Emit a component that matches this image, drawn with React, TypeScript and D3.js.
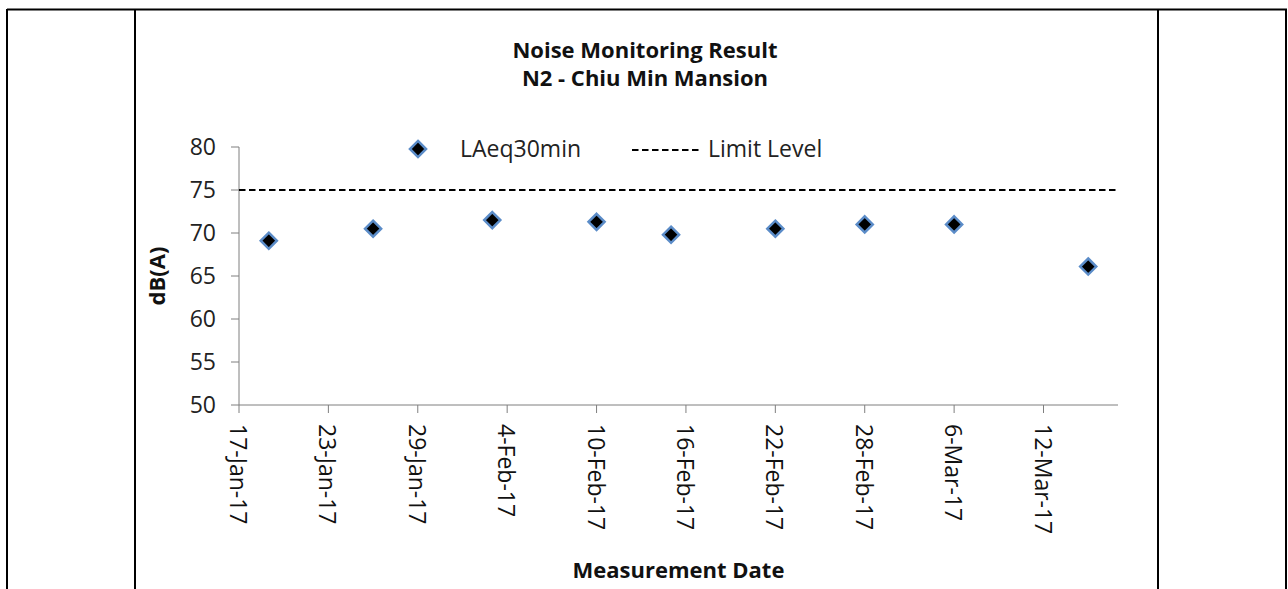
import React from "react";
import * as d3 from "d3";

// measurement dates and LAeq30min readings, dB(A)
const dates = [
  "2017-01-19", "2017-01-26", "2017-02-03", "2017-02-10", "2017-02-15",
  "2017-02-22", "2017-02-28", "2017-03-06", "2017-03-15"
];
const laeq = [69.1, 70.5, 71.5, 71.3, 69.8, 70.5, 71.0, 71.0, 66.1];
const limitLevel = 75;
const yTicks = [50, 55, 60, 65, 70, 75, 80];
const xTickDates = [
  "2017-01-17", "2017-01-23", "2017-01-29", "2017-02-04", "2017-02-10",
  "2017-02-16", "2017-02-22", "2017-02-28", "2017-03-06", "2017-03-12"
];

const parse = d3.utcParse("%Y-%m-%d");
const fmt = d3.utcFormat("%-d-%b-%y");
const font = "'Open Sans', sans-serif";

const App = () => {
  const width = 1288;
  const height = 589;
  const left = 239, right = 1118, top = 147, bottom = 405;

  const x = d3.scaleUtc()
    .domain([parse("2017-01-17")!, parse("2017-03-17")!])
    .range([left, right]);
  const y = d3.scaleLinear().domain([50, 80]).range([bottom, top]);

  const diamond = d3.symbol().type(d3.symbolDiamond2).size(165)()!;
  const axisColor = "#7f7f7f";
  const markerStroke = "#5b8cc8";

  return (
    <svg width={width} height={height} style={{ position: "absolute", left: 0, top: 0 }}>
      <rect width={width} height={height} fill="#fff" />
      {/* table borders */}
      <line x1={7} x2={1287} y1={9.5} y2={9.5} stroke="#000" strokeWidth={2} />
      {[7, 135, 1158, 1286].map((bx) => (
        <line key={bx} x1={bx} x2={bx} y1={9} y2={height} stroke="#000" strokeWidth={2} />
      ))}

      <text x={645} y={58} textAnchor="middle" fontFamily={font} fontWeight="bold" fontSize={22} fill="#111">
        Noise Monitoring Result
      </text>
      <text x={645} y={86} textAnchor="middle" fontFamily={font} fontWeight="bold" fontSize={22} fill="#111">
        N2 - Chiu Min Mansion
      </text>

      {/* legend */}
      <path d={diamond} transform="translate(418,149)" fill="#000" stroke={markerStroke} strokeWidth={2.5} />
      <text x={460} y={157} fontFamily={font} fontSize={23} fill="#222">LAeq30min</text>
      <line x1={632} x2={702} y1={150} y2={150} stroke="#000" strokeWidth={2} strokeDasharray="6.5,3.5" />
      <text x={708} y={157} fontFamily={font} fontSize={23} fill="#222">Limit Level</text>

      {/* y axis */}
      <line x1={left} x2={left} y1={top} y2={bottom} stroke={axisColor} />
      {yTicks.map((t) => (
        <g key={t}>
          <line x1={left - 8} x2={left} y1={y(t)} y2={y(t)} stroke={axisColor} />
          <text x={216} y={y(t)} dy="0.35em" textAnchor="end" fontFamily={font} fontSize={23} fill="#222">{t}</text>
        </g>
      ))}
      <text transform={`translate(156,${(top + bottom) / 2}) rotate(-90)`} textAnchor="middle"
        dominantBaseline="central" fontFamily={font} fontWeight="bold" fontSize={22} fill="#111">dB(A)</text>

      {/* x axis */}
      <line x1={left} x2={right} y1={bottom} y2={bottom} stroke={axisColor} />
      {xTickDates.map((d) => {
        const tx = x(parse(d)!);
        return (
          <g key={d}>
            <line x1={tx} x2={tx} y1={bottom} y2={bottom + 8} stroke={axisColor} />
            <text transform={`translate(${tx},${bottom + 19}) rotate(90)`} textAnchor="start"
              dominantBaseline="central" fontFamily={font} fontSize={23} fill="#111">{fmt(parse(d)!)}</text>
          </g>
        );
      })}
      <text x={(left + right) / 2} y={578} textAnchor="middle" fontFamily={font} fontWeight="bold" fontSize={22} fill="#111">
        Measurement Date
      </text>

      {/* limit line */}
      <line x1={left} x2={right} y1={y(limitLevel)} y2={y(limitLevel)} stroke="#000" strokeWidth={2} strokeDasharray="6.5,3.5" />

      {/* points */}
      {dates.map((d, i) => (
        <path key={d} d={diamond} transform={`translate(${x(parse(d)!)},${y(laeq[i])})`}
          fill="#000" stroke={markerStroke} strokeWidth={2.5} />
      ))}
    </svg>
  );
};

export default App;
